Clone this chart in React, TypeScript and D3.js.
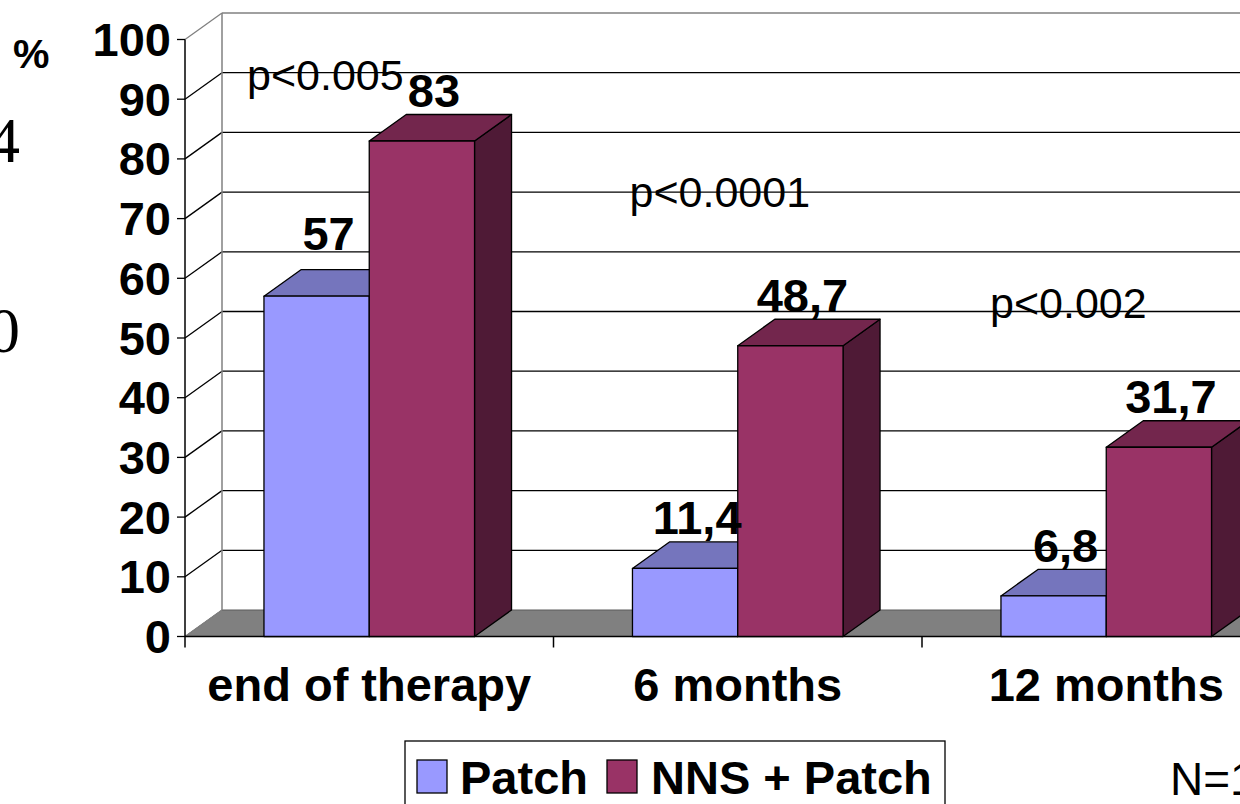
import * as d3 from 'd3'

const categories = ['end of therapy', '6 months', '12 months']
const seriesNames = ['Patch', 'NNS + Patch']
const patchValues = [57, 11.4, 6.8]
const nnsValues = [83, 48.7, 31.7]
const valueLabels = [
  ['57', '11,4', '6,8'],
  ['83', '48,7', '31,7'],
]
const yTicks = [0, 10, 20, 30, 40, 50, 60, 70, 80, 90, 100]
const pValues = ['p<0.005', 'p<0.0001', 'p<0.002']
// p-value annotation anchors: value level on the y scale, offset into the category band
const pLevels = [91.5, 72, 53.4]
const pOffsets = [62, 76, 68]

const colors = [
  { front: '#9999ff', top: '#7575bd', side: '#5c5c99' },
  { front: '#993366', top: '#73264d', side: '#4f1a36' },
]

const W = 1240
const H = 804
const DX = 37
const DY = -26.5
const FONT = '"Liberation Sans", Arial, sans-serif'

export default function App() {
  const y = d3.scaleLinear().domain([0, 100]).range([636.5, 39.5])
  const x0 = d3.scaleBand<string>().domain(categories).range([185, 185 + 3 * 368.5])
  const x1 = d3
    .scaleBand<string>()
    .domain(seriesNames)
    .range([0, x0.bandwidth()])
    .paddingInner(0)
    .paddingOuter(0.75)
  const bw = x1.bandwidth()
  const left = 185
  const bottom = y(0)
  const far = W + 200

  const values = [patchValues, nnsValues]

  return (
    <div style={{ position: 'absolute', left: 0, top: 0 }}>
      <svg width={W} height={H} style={{ display: 'block', background: '#fff' }}>
        {/* floor */}
        <polygon
          points={`${left},${bottom} ${left + DX},${bottom + DY} ${far},${bottom + DY} ${far},${bottom}`}
          fill="#808080"
          stroke="#5a5a5a"
          strokeWidth={1}
        />
        {/* back wall gridlines */}
        {yTicks.map(t => (
          <g key={t}>
            {t > 0 && (
              <line
                x1={left + DX}
                x2={far}
                y1={y(t) + DY}
                y2={y(t) + DY}
                stroke={t === 100 ? '#808080' : '#000'}
                strokeWidth={1.3}
              />
            )}
            <line
              x1={left}
              y1={y(t)}
              x2={left + DX}
              y2={y(t) + DY}
              stroke={t === 100 || t === 0 ? '#808080' : '#000'}
              strokeWidth={1.3}
            />
            <line x1={left - 8} x2={left} y1={y(t)} y2={y(t)} stroke="#000" strokeWidth={1.3} />
            <text
              x={171}
              y={y(t) + 16.5}
              textAnchor="end"
              fontFamily={FONT}
              fontWeight="bold"
              fontSize={47}
              fill="#000"
            >
              {t}
            </text>
          </g>
        ))}
        <line
          x1={left + DX}
          x2={left + DX}
          y1={y(100) + DY}
          y2={bottom + DY}
          stroke="#808080"
          strokeWidth={1.5}
        />
        {/* y axis + x axis */}
        <line x1={left} x2={left} y1={y(100)} y2={bottom + 11} stroke="#000" strokeWidth={1.5} />
        <line x1={left} x2={far} y1={bottom} y2={bottom} stroke="#000" strokeWidth={1.5} />
        {categories.slice(1).map(c => (
          <line
            key={c}
            x1={x0(c)}
            x2={x0(c)}
            y1={bottom}
            y2={bottom + 11}
            stroke="#000"
            strokeWidth={1.5}
          />
        ))}

        {/* bars */}
        {categories.map((c, ci) =>
          seriesNames.map((s, si) => {
            const v = values[si][ci]
            const bx = (x0(c) ?? 0) + (x1(s) ?? 0)
            const top = y(v)
            const col = colors[si]
            return (
              <g key={c + s} stroke="#000" strokeWidth={1.3} strokeLinejoin="round">
                <polygon
                  points={`${bx + bw},${top} ${bx + bw + DX},${top + DY} ${bx + bw + DX},${bottom + DY} ${bx + bw},${bottom}`}
                  fill={col.side}
                />
                <polygon
                  points={`${bx},${top} ${bx + DX},${top + DY} ${bx + bw + DX},${top + DY} ${bx + bw},${top}`}
                  fill={col.top}
                />
                <rect x={bx} y={top} width={bw} height={bottom - top} fill={col.front} />
              </g>
            )
          })
        )}

        {/* value labels */}
        {categories.map((c, ci) =>
          seriesNames.map((s, si) => (
            <text
              key={'l' + c + s}
              x={(x0(c) ?? 0) + (x1(s) ?? 0) + bw / 2 + 12}
              y={y(values[si][ci]) - (ci === 0 && si === 0 ? 46 : 34)}
              textAnchor="middle"
              fontFamily={FONT}
              fontWeight="bold"
              fontSize={47}
              fill="#000"
            >
              {valueLabels[si][ci]}
            </text>
          ))
        )}

        {/* p-values */}
        {categories.map((c, ci) => (
          <text
            key={'p' + c}
            x={(x0(c) ?? 0) + pOffsets[ci]}
            y={y(pLevels[ci])}
            fontFamily={FONT}
            fontSize={43}
            fill="#000"
          >
            {pValues[ci]}
          </text>
        ))}

        {/* category labels */}
        {categories.map(c => (
          <text
            key={'c' + c}
            x={(x0(c) ?? 0) + x0.bandwidth() / 2}
            y={701}
            textAnchor="middle"
            fontFamily={FONT}
            fontWeight="bold"
            fontSize={47}
            fill="#000"
          >
            {c}
          </text>
        ))}

        {/* unit */}
        <text x={13} y={68} fontFamily={FONT} fontWeight="bold" fontSize={41} fill="#000">
          %
        </text>

        {/* clipped slide text at left edge */}
        <text x={20} y={162} textAnchor="end" fontFamily='"Liberation Serif", serif' fontSize={64} fill="#000">
          14
        </text>
        <text x={20} y={352} textAnchor="end" fontFamily='"Liberation Serif", serif' fontSize={64} fill="#000">
          10
        </text>

        {/* legend */}
        <rect x={405} y={741} width={540} height={100} fill="#fff" stroke="#000" strokeWidth={1.3} />
        <rect x={417} y={760} width={30} height={33} fill={colors[0].front} stroke="#000" strokeWidth={1.3} />
        <text x={460} y={794} fontFamily={FONT} fontWeight="bold" fontSize={47} fill="#000">
          {seriesNames[0]}
        </text>
        <rect x={607} y={760} width={30} height={33} fill={colors[1].front} stroke="#000" strokeWidth={1.3} />
        <text x={651} y={794} fontFamily={FONT} fontWeight="bold" fontSize={47} fill="#000">
          {seriesNames[1]}
        </text>

        <text x={1170} y={795} fontFamily={FONT} fontSize={46} fill="#000">
          N=100
        </text>
      </svg>
    </div>
  )
}
